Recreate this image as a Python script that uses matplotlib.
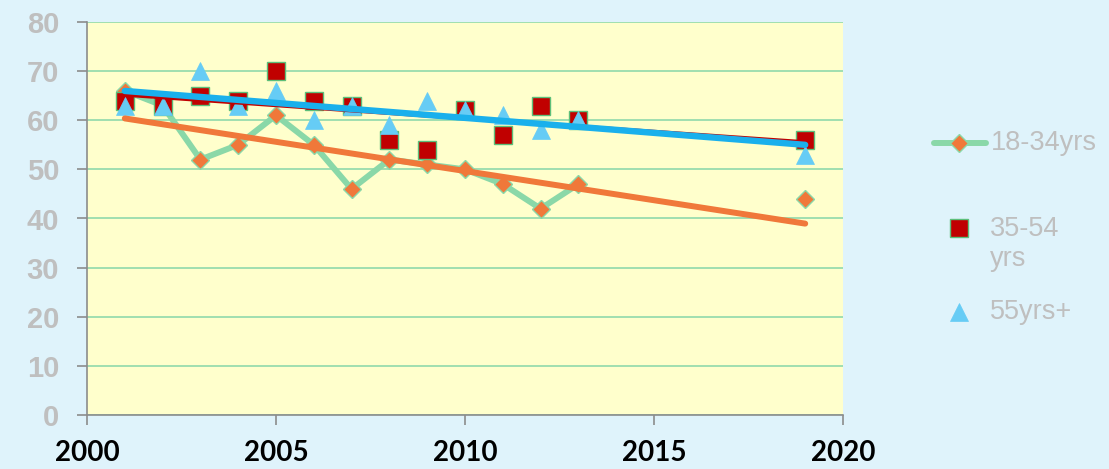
import numpy as np
import matplotlib
matplotlib.use("Agg")
import matplotlib.pyplot as plt

years = [2001, 2002, 2003, 2004, 2005, 2006, 2007, 2008, 2009, 2010, 2011, 2012, 2013, 2019]
young = [66, 63, 52, 55, 61, 55, 46, 52, 51, 50, 47, 42, 47, 44]
middle = [64, 63, 65, 64, 70, 64, 63, 56, 54, 62, 57, 63, 60, 56]
older = [63, 63, 70, 63, 66, 60, 63, 59, 64, 62, 61, 58, 60, 53]
series_labels = ["18-34yrs", "35-54\nyrs", "55yrs+"]
x_ticks = [2000, 2005, 2010, 2015, 2020]
y_ticks = [0, 10, 20, 30, 40, 50, 60, 70, 80]

BG = "#dff3fb"
FACE = "#ffffcc"
GRID = "#98dcae"
GREEN = "#8ad8a8"
ORANGE = "#f0783a"
RED = "#c00000"
LBLUE = "#66ccf5"
BLUE = "#1ab0ec"
GRAY = "#bfbfbf"

W, H = 1109, 469
fig = plt.figure(figsize=(W / 100, H / 100), dpi=100, facecolor=BG)
ax = fig.add_axes([87 / W, (H - 415) / H, 756 / W, 393 / H], facecolor=FACE)

ax.set_xlim(2000, 2020)
ax.set_ylim(0, 80)
ax.set_yticks(y_ticks)
ax.set_xticks(x_ticks)
ax.grid(axis="y", color=GRID, linewidth=1.3, zorder=0)
ax.set_axisbelow(True)
for s in ["top", "right"]:
    ax.spines[s].set_visible(False)
for s in ["left", "bottom"]:
    ax.spines[s].set_color("#8c8c8c")
    ax.spines[s].set_linewidth(1.2)
ax.tick_params(axis="y", length=7, width=1.2, color="#8c8c8c", pad=13,
               labelsize=21, labelcolor=GRAY)
ax.tick_params(axis="x", length=7, width=1.2, color="#8c8c8c", pad=11,
               labelsize=20, labelcolor="black")
for lab in ax.get_yticklabels():
    lab.set_fontfamily("Liberation Sans")
    lab.set_fontweight("bold")
for lab in ax.get_xticklabels():
    lab.set_fontfamily("Lato")
    lab.set_fontweight("bold")

ax.plot(years[:13], young[:13], color=GREEN, lw=4.3, solid_joinstyle="round",
        solid_capstyle="round", zorder=2)
ax.plot(years, young, ls="none", marker="D", ms=9.3, mfc=ORANGE, mec=GREEN,
        mew=1.0, zorder=3)
ax.plot(years, middle, ls="none", marker="s", ms=13, mfc=RED, mec="#5cbf7a",
        mew=1.0, zorder=4)
ax.plot(years, older, ls="none", marker="^", ms=13.5, mfc=LBLUE, mec=LBLUE,
        mew=0.5, zorder=5)

xt = np.array([years[0], years[-1]], dtype=float)
for vals, col, lw, z in [(young, ORANGE, 4.3, 6), (middle, RED, 2.6, 7),
                         (older, BLUE, 4.6, 8)]:
    k, b = np.polyfit(years, vals, 1)
    ax.plot(xt, k * xt + b, color=col, lw=lw, solid_capstyle="round", zorder=z)

# legend (manual, in pixel coordinates of the figure)
lax = fig.add_axes([0, 0, 1, 1], facecolor="none")
lax.set_xlim(0, W)
lax.set_ylim(H, 0)
lax.axis("off")
lax.plot([934, 986], [143, 143], color=GREEN, lw=4.3, solid_capstyle="round")
lax.plot([959], [143], marker="D", ms=9.3, mfc=ORANGE, mec=GREEN, mew=1.0)
lax.plot([959], [228], marker="s", ms=13, mfc=RED, mec="#5cbf7a", mew=1.0)
lax.plot([959], [312], marker="^", ms=13.5, mfc=LBLUE, mec=LBLUE, mew=0.5)
txt_kw = dict(color=GRAY, fontsize=19.5, family="Liberation Sans",
              va="center", ha="left", linespacing=1.15)
lax.text(991, 143, series_labels[0], **txt_kw)
lax.text(990, 244, series_labels[1], **txt_kw)
lax.text(990, 312, series_labels[2], **txt_kw)

fig.savefig("out.png", dpi=100, facecolor=BG)
